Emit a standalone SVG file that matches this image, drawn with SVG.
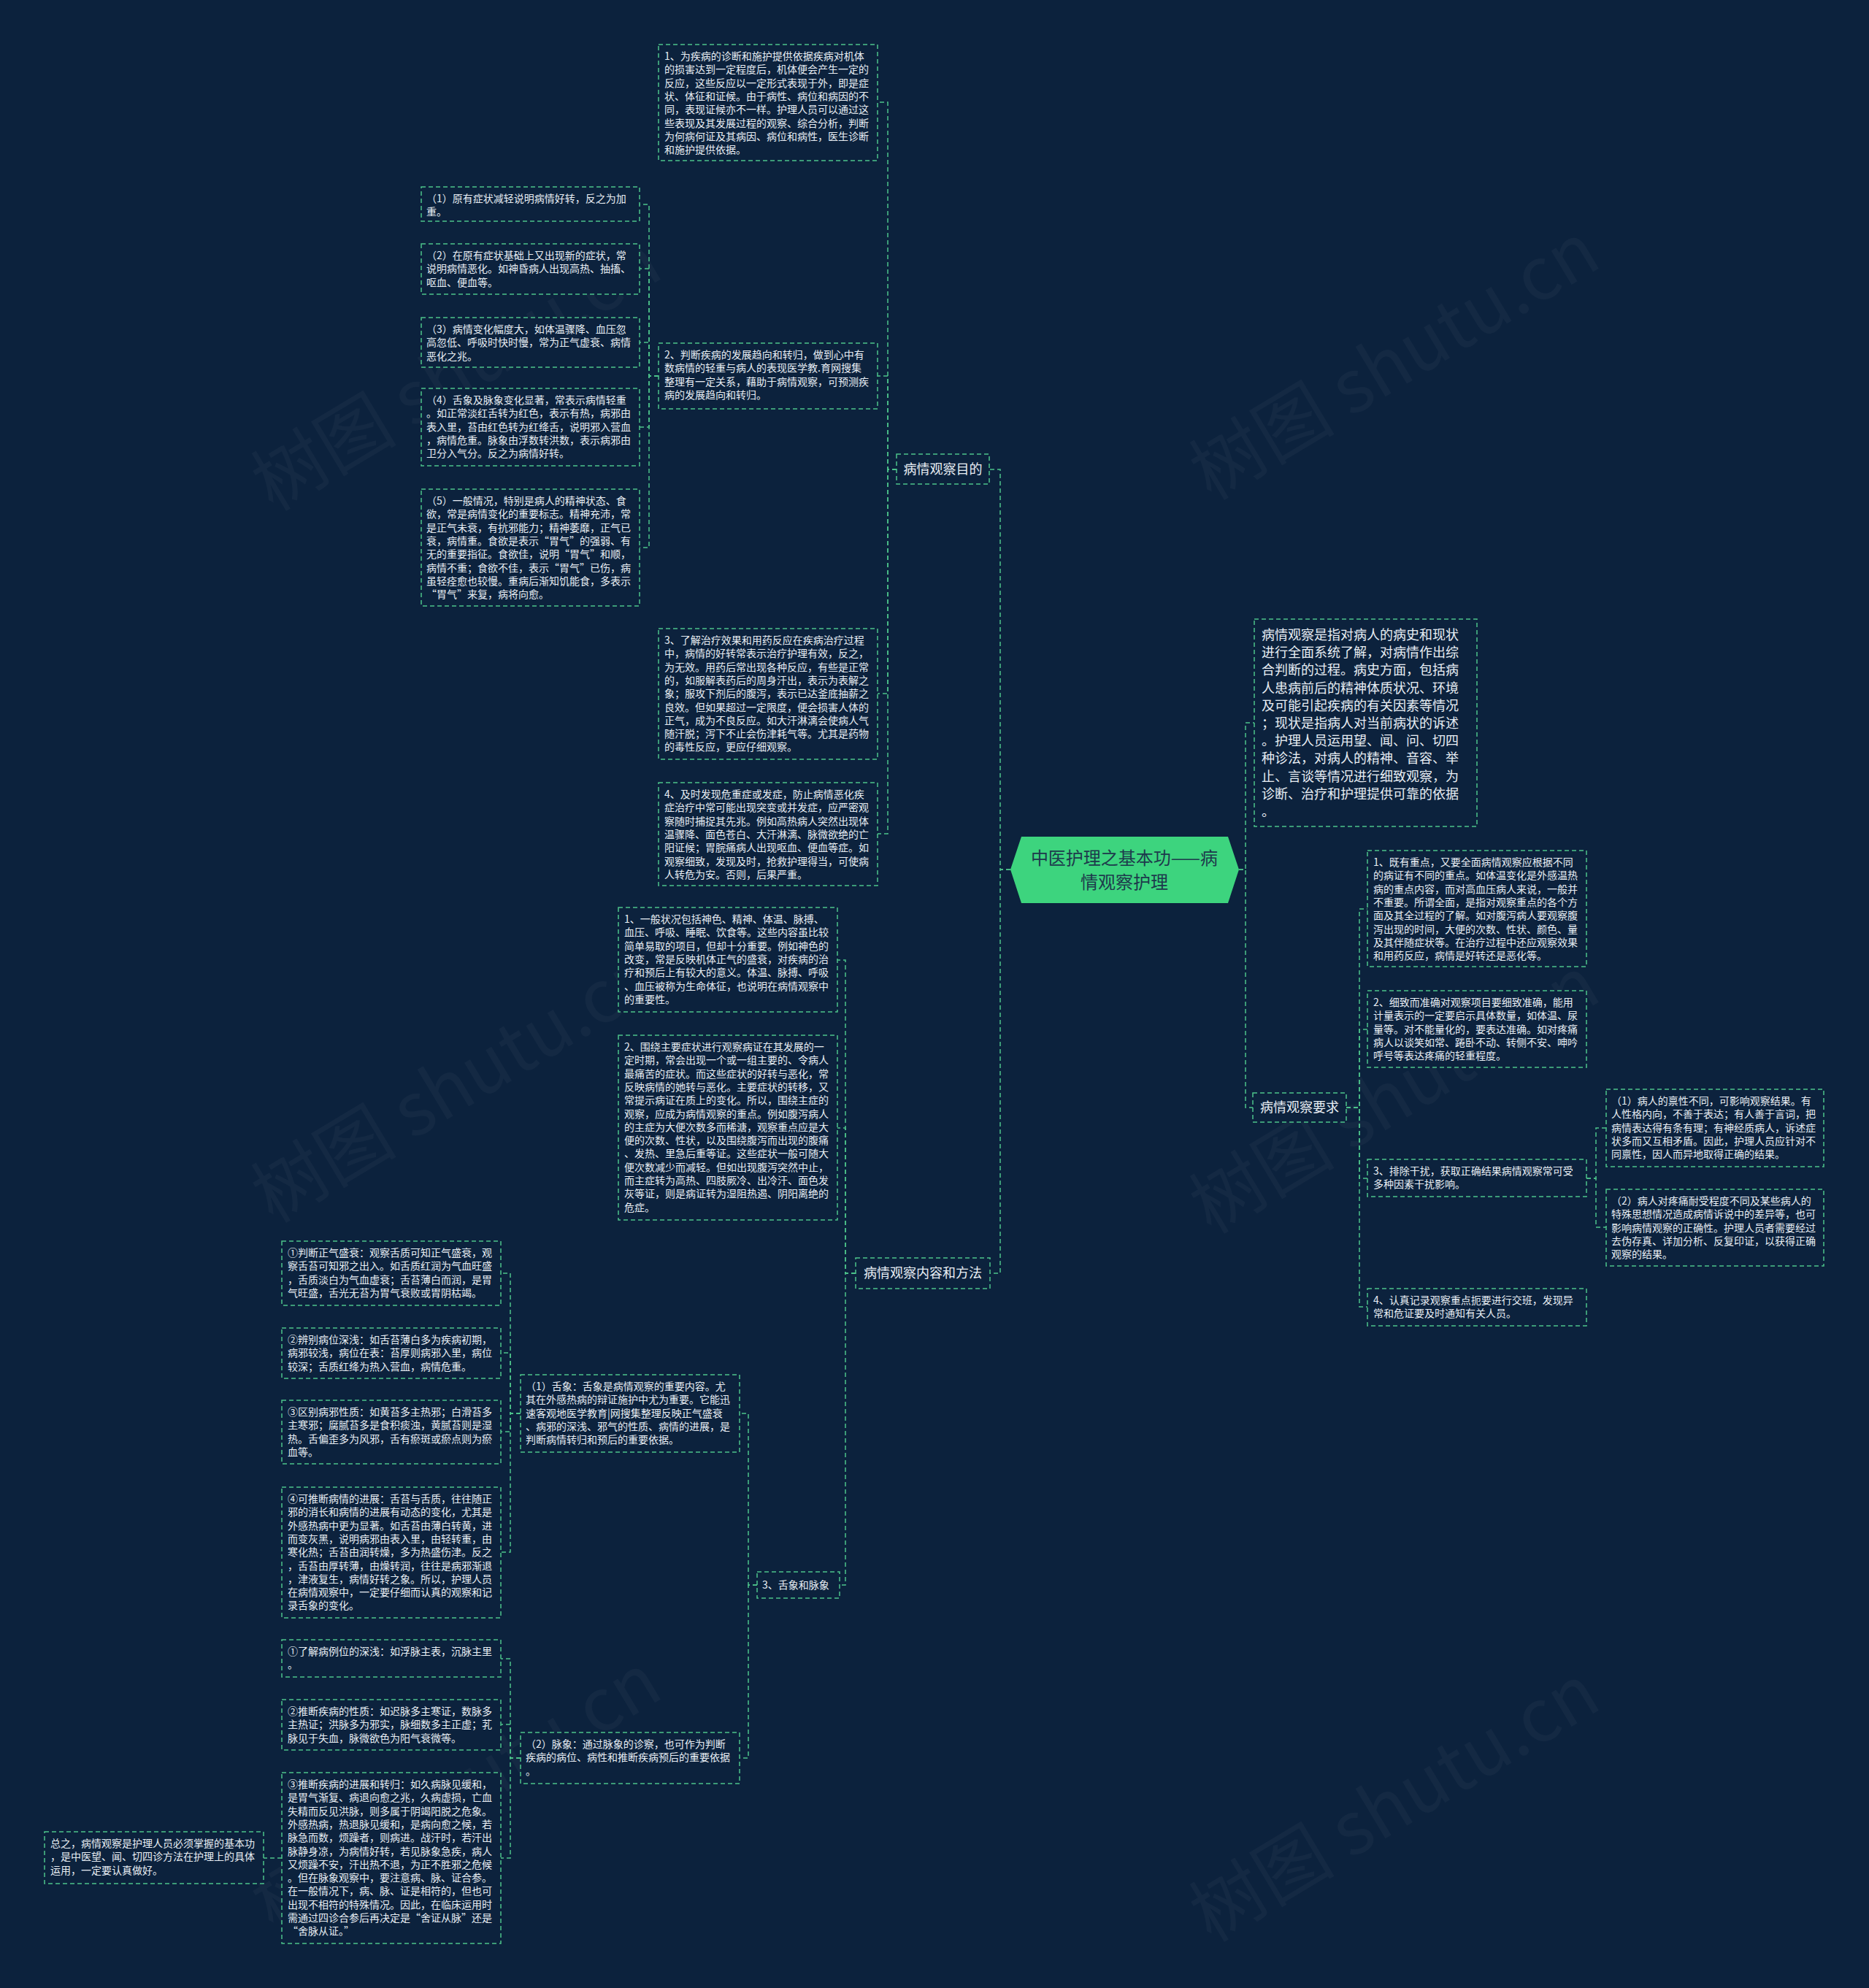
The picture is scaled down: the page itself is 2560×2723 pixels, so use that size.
<svg xmlns="http://www.w3.org/2000/svg" width="2560" height="2723" viewBox="0 0 2560 2723">
<style>
.bg{fill:#0c223d}
.box{fill:#0c223d;stroke:#4cc38a;stroke-width:1.5;stroke-dasharray:6 4}
.conn{fill:none;stroke:#4cc38a;stroke-width:1.5;stroke-dasharray:6 4}
.t{font-family:"Noto Sans CJK SC","Noto Sans",sans-serif;font-size:14px;fill:#e8eef4}
.t18{font-family:"Noto Sans CJK SC","Noto Sans",sans-serif;font-size:18px;fill:#e8eef4}
.lbl{font-family:"Noto Sans CJK SC","Noto Sans",sans-serif;font-size:18px;fill:#e8eef4;text-anchor:middle}
.ctr{font-family:"Noto Sans CJK SC","Noto Sans",sans-serif;font-size:24px;fill:#1d3a4c;text-anchor:middle}
.wm{font-family:"Noto Sans CJK SC","Noto Sans",sans-serif;font-size:100px;fill:#ffffff;fill-opacity:0.035;text-anchor:middle}
</style>
<rect class="bg" x="0" y="0" width="2560" height="2723"/>
<g id="watermarks">
<text class="wm" transform="translate(643,540) rotate(-31)">树图 shutu.cn</text>
<text class="wm" transform="translate(1928,525) rotate(-31)">树图 shutu.cn</text>
<text class="wm" transform="translate(643,1515) rotate(-31)">树图 shutu.cn</text>
<text class="wm" transform="translate(1928,1530) rotate(-31)">树图 shutu.cn</text>
<text class="wm" transform="translate(643,2485) rotate(-31)">树图 shutu.cn</text>
<text class="wm" transform="translate(1928,2500) rotate(-31)">树图 shutu.cn</text>
</g>
<g id="connectors">
<path class="conn" d="M1384,1191 H1370 V643 H1355"/>
<path class="conn" d="M1384,1191 H1370 V1744 H1356"/>
<path class="conn" d="M1697,1191 H1706 V990 H1718"/>
<path class="conn" d="M1697,1191 H1706 V1517 H1716"/>
<path class="conn" d="M1228,643 H1216 V140 H1202"/>
<path class="conn" d="M1228,643 H1216 V515 H1202"/>
<path class="conn" d="M1228,643 H1216 V950 H1202"/>
<path class="conn" d="M1228,643 H1216 V1142 H1202"/>
<path class="conn" d="M902,515 H889 V280 H876"/>
<path class="conn" d="M902,515 H889 V368 H876"/>
<path class="conn" d="M902,515 H889 V469 H876"/>
<path class="conn" d="M902,515 H889 V585 H876"/>
<path class="conn" d="M902,515 H889 V750 H876"/>
<path class="conn" d="M1172,1744 H1158 V1315 H1147"/>
<path class="conn" d="M1172,1744 H1158 V1545 H1147"/>
<path class="conn" d="M1172,1744 H1158 V2171 H1150"/>
<path class="conn" d="M1037,2171 H1025 V1936 H1013"/>
<path class="conn" d="M1037,2171 H1025 V2408 H1013"/>
<path class="conn" d="M713,1936 H699 V1744 H686"/>
<path class="conn" d="M713,1936 H699 V1853 H686"/>
<path class="conn" d="M713,1936 H699 V1961 H686"/>
<path class="conn" d="M713,1936 H699 V2126 H686"/>
<path class="conn" d="M713,2408 H699 V2272 H686"/>
<path class="conn" d="M713,2408 H699 V2362 H686"/>
<path class="conn" d="M713,2408 H699 V2545 H686"/>
<path class="conn" d="M386,2545 H361"/>
<path class="conn" d="M1844,1517 H1862 V1245 H1873"/>
<path class="conn" d="M1844,1517 H1862 V1410 H1873"/>
<path class="conn" d="M1844,1517 H1862 V1614 H1873"/>
<path class="conn" d="M1844,1517 H1862 V1790 H1873"/>
<path class="conn" d="M2173,1614 H2186 V1545 H2200"/>
<path class="conn" d="M2173,1614 H2186 V1681 H2200"/>
</g>
<g id="center">
<polygon points="1384,1191 1399,1146 1682,1146 1697,1191 1682,1237 1399,1237" fill="#3dd47e"/>
<text class="ctr" x="1540" y="1184">中医护理之基本功——病</text>
<text class="ctr" x="1540" y="1217">情观察护理</text>
</g>
<g id="n-mudi">
<rect class="box" x="1228" y="622" width="127" height="41"/>
<text class="lbl" x="1291.5" y="649">病情观察目的</text>
</g>
<g id="n-neirong">
<rect class="box" x="1172" y="1723" width="184" height="42"/>
<text class="lbl" x="1264" y="1750">病情观察内容和方法</text>
</g>
<g id="n-yaoqiu">
<rect class="box" x="1716" y="1497" width="128" height="40"/>
<text class="lbl" x="1780" y="1523">病情观察要求</text>
</g>
<g id="n-desc">
<rect class="box" x="1718" y="848" width="305" height="284"/>
<text class="t18" x="1728" y="876"><tspan x="1728" dy="0">病情观察是指对病人的病史和现状</tspan><tspan x="1728" dy="24.2">进行全面系统了解，对病情作出综</tspan><tspan x="1728" dy="24.2">合判断的过程。病史方面，包括病</tspan><tspan x="1728" dy="24.2">人患病前后的精神体质状况、环境</tspan><tspan x="1728" dy="24.2">及可能引起疾病的有关因素等情况</tspan><tspan x="1728" dy="24.2">；现状是指病人对当前病状的诉述</tspan><tspan x="1728" dy="24.2">。护理人员运用望、闻、问、切四</tspan><tspan x="1728" dy="24.2">种诊法，对病人的精神、音容、举</tspan><tspan x="1728" dy="24.2">止、言谈等情况进行细致观察，为</tspan><tspan x="1728" dy="24.2">诊断、治疗和护理提供可靠的依据</tspan><tspan x="1728" dy="24.2">。</tspan></text>
</g>
<g id="n-mudi1">
<rect class="box" x="902" y="61" width="300" height="159"/>
<text class="t" x="910" y="82"><tspan x="910" dy="0">1、为疾病的诊断和施护提供依据疾病对机体</tspan><tspan x="910" dy="18.3">的损害达到一定程度后，机体便会产生一定的</tspan><tspan x="910" dy="18.3">反应，这些反应以一定形式表现于外，即是症</tspan><tspan x="910" dy="18.3">状、体征和证候。由于病性、病位和病因的不</tspan><tspan x="910" dy="18.3">同，表现证候亦不一样。护理人员可以通过这</tspan><tspan x="910" dy="18.3">些表现及其发展过程的观察、综合分析，判断</tspan><tspan x="910" dy="18.3">为何病何证及其病因、病位和病性，医生诊断</tspan><tspan x="910" dy="18.3">和施护提供依据。</tspan></text>
</g>
<g id="n-mudi2">
<rect class="box" x="902" y="470" width="300" height="90"/>
<text class="t" x="910" y="491"><tspan x="910" dy="0">2、判断疾病的发展趋向和转归，做到心中有</tspan><tspan x="910" dy="18.3">数病情的轻重与病人的表现医学教.育网搜集</tspan><tspan x="910" dy="18.3">整理有一定关系，藉助于病情观察，可预测疾</tspan><tspan x="910" dy="18.3">病的发展趋向和转归。</tspan></text>
</g>
<g id="n-mudi3">
<rect class="box" x="902" y="861" width="300" height="179"/>
<text class="t" x="910" y="882"><tspan x="910" dy="0">3、了解治疗效果和用药反应在疾病治疗过程</tspan><tspan x="910" dy="18.3">中，病情的好转常表示治疗护理有效，反之，</tspan><tspan x="910" dy="18.3">为无效。用药后常出现各种反应，有些是正常</tspan><tspan x="910" dy="18.3">的，如服解表药后的周身汗出，表示为表解之</tspan><tspan x="910" dy="18.3">象；服攻下剂后的腹泻，表示已达釜底抽薪之</tspan><tspan x="910" dy="18.3">良效。但如果超过一定限度，便会损害人体的</tspan><tspan x="910" dy="18.3">正气，成为不良反应。如大汗淋漓会使病人气</tspan><tspan x="910" dy="18.3">随汗脱；泻下不止会伤津耗气等。尤其是药物</tspan><tspan x="910" dy="18.3">的毒性反应，更应仔细观察。</tspan></text>
</g>
<g id="n-mudi4">
<rect class="box" x="902" y="1072" width="300" height="141"/>
<text class="t" x="910" y="1093"><tspan x="910" dy="0">4、及时发现危重症或发症，防止病情恶化疾</tspan><tspan x="910" dy="18.3">症治疗中常可能出现突变或并发症，应严密观</tspan><tspan x="910" dy="18.3">察随时捕捉其先兆。例如高热病人突然出现体</tspan><tspan x="910" dy="18.3">温骤降、面色苍白、大汗淋漓、脉微欲绝的亡</tspan><tspan x="910" dy="18.3">阳证候；胃脘痛病人出现呕血、便血等症。如</tspan><tspan x="910" dy="18.3">观察细致，发现及时，抢救护理得当，可使病</tspan><tspan x="910" dy="18.3">人转危为安。否则，后果严重。</tspan></text>
</g>
<g id="n-m2-1">
<rect class="box" x="577" y="256" width="299" height="47"/>
<text class="t" x="584" y="277"><tspan x="584" dy="0">（1）原有症状减轻说明病情好转，反之为加</tspan><tspan x="584" dy="18.3">重。</tspan></text>
</g>
<g id="n-m2-2">
<rect class="box" x="577" y="334" width="299" height="69"/>
<text class="t" x="584" y="355"><tspan x="584" dy="0">（2）在原有症状基础上又出现新的症状，常</tspan><tspan x="584" dy="18.3">说明病情恶化。如神昏病人出现高热、抽搐、</tspan><tspan x="584" dy="18.3">呕血、便血等。</tspan></text>
</g>
<g id="n-m2-3">
<rect class="box" x="577" y="435" width="299" height="68"/>
<text class="t" x="584" y="456"><tspan x="584" dy="0">（3）病情变化幅度大，如体温骤降、血压忽</tspan><tspan x="584" dy="18.3">高忽低、呼吸时快时慢，常为正气虚衰、病情</tspan><tspan x="584" dy="18.3">恶化之兆。</tspan></text>
</g>
<g id="n-m2-4">
<rect class="box" x="577" y="532" width="299" height="106"/>
<text class="t" x="584" y="553"><tspan x="584" dy="0">（4）舌象及脉象变化显著，常表示病情轻重</tspan><tspan x="584" dy="18.3">。如正常淡红舌转为红色，表示有热，病邪由</tspan><tspan x="584" dy="18.3">表入里，苔由红色转为红绛舌，说明邪入营血</tspan><tspan x="584" dy="18.3">，病情危重。脉象由浮数转洪数，表示病邪由</tspan><tspan x="584" dy="18.3">卫分入气分。反之为病情好转。</tspan></text>
</g>
<g id="n-m2-5">
<rect class="box" x="577" y="670" width="299" height="160"/>
<text class="t" x="584" y="691"><tspan x="584" dy="0">（5）一般情况，特别是病人的精神状态、食</tspan><tspan x="584" dy="18.3">欲，常是病情变化的重要标志。精神充沛，常</tspan><tspan x="584" dy="18.3">是正气未衰，有抗邪能力；精神萎靡，正气已</tspan><tspan x="584" dy="18.3">衰，病情重。食欲是表示“胃气”的强弱、有</tspan><tspan x="584" dy="18.3">无的重要指征。食欲佳，说明“胃气”和顺，</tspan><tspan x="584" dy="18.3">病情不重；食欲不佳，表示“胃气”已伤，病</tspan><tspan x="584" dy="18.3">虽轻痊愈也较慢。重病后渐知饥能食，多表示</tspan><tspan x="584" dy="18.3">“胃气”来复，病将向愈。</tspan></text>
</g>
<g id="n-yq1">
<rect class="box" x="1873" y="1165" width="300" height="159"/>
<text class="t" x="1881" y="1186"><tspan x="1881" dy="0">1、既有重点，又要全面病情观察应根据不同</tspan><tspan x="1881" dy="18.3">的病证有不同的重点。如体温变化是外感温热</tspan><tspan x="1881" dy="18.3">病的重点内容，而对高血压病人来说，一般并</tspan><tspan x="1881" dy="18.3">不重要。所谓全面，是指对观察重点的各个方</tspan><tspan x="1881" dy="18.3">面及其全过程的了解。如对腹泻病人要观察腹</tspan><tspan x="1881" dy="18.3">泻出现的时间，大便的次数、性状、颜色、量</tspan><tspan x="1881" dy="18.3">及其伴随症状等。在治疗过程中还应观察效果</tspan><tspan x="1881" dy="18.3">和用药反应，病情是好转还是恶化等。</tspan></text>
</g>
<g id="n-yq2">
<rect class="box" x="1873" y="1357" width="300" height="105"/>
<text class="t" x="1881" y="1378"><tspan x="1881" dy="0">2、细致而准确对观察项目要细致准确，能用</tspan><tspan x="1881" dy="18.3">计量表示的一定要启示具体数量，如体温、尿</tspan><tspan x="1881" dy="18.3">量等。对不能量化的，要表达准确。如对疼痛</tspan><tspan x="1881" dy="18.3">病人以谈笑如常、踡卧不动、转侧不安、呻吟</tspan><tspan x="1881" dy="18.3">呼号等表达疼痛的轻重程度。</tspan></text>
</g>
<g id="n-yq3">
<rect class="box" x="1873" y="1588" width="300" height="51"/>
<text class="t" x="1881" y="1609"><tspan x="1881" dy="0">3、排除干扰，获取正确结果病情观察常可受</tspan><tspan x="1881" dy="18.3">多种因素干扰影响。</tspan></text>
</g>
<g id="n-yq4">
<rect class="box" x="1873" y="1765" width="300" height="51"/>
<text class="t" x="1881" y="1786"><tspan x="1881" dy="0">4、认真记录观察重点扼要进行交班，发现异</tspan><tspan x="1881" dy="18.3">常和危证要及时通知有关人员。</tspan></text>
</g>
<g id="n-yq3-1">
<rect class="box" x="2200" y="1492" width="298" height="106"/>
<text class="t" x="2207" y="1513"><tspan x="2207" dy="0">（1）病人的禀性不同，可影响观察结果。有</tspan><tspan x="2207" dy="18.3">人性格内向，不善于表达；有人善于言词，把</tspan><tspan x="2207" dy="18.3">病情表达得有条有理；有神经质病人，诉述症</tspan><tspan x="2207" dy="18.3">状多而又互相矛盾。因此，护理人员应针对不</tspan><tspan x="2207" dy="18.3">同禀性，因人而异地取得正确的结果。</tspan></text>
</g>
<g id="n-yq3-2">
<rect class="box" x="2200" y="1629" width="298" height="105"/>
<text class="t" x="2207" y="1650"><tspan x="2207" dy="0">（2）病人对疼痛耐受程度不同及某些病人的</tspan><tspan x="2207" dy="18.3">特殊思想情况造成病情诉说中的差异等，也可</tspan><tspan x="2207" dy="18.3">影响病情观察的正确性。护理人员者需要经过</tspan><tspan x="2207" dy="18.3">去伪存真、详加分析、反复印证，以获得正确</tspan><tspan x="2207" dy="18.3">观察的结果。</tspan></text>
</g>
<g id="n-nr1">
<rect class="box" x="847" y="1243" width="300" height="143"/>
<text class="t" x="855" y="1264"><tspan x="855" dy="0">1、一般状况包括神色、精神、体温、脉搏、</tspan><tspan x="855" dy="18.3">血压、呼吸、睡眠、饮食等。这些内容虽比较</tspan><tspan x="855" dy="18.3">简单易取的项目，但却十分重要。例如神色的</tspan><tspan x="855" dy="18.3">改变，常是反映机体正气的盛衰，对疾病的治</tspan><tspan x="855" dy="18.3">疗和预后上有较大的意义。体温、脉搏、呼吸</tspan><tspan x="855" dy="18.3">、血压被称为生命体征，也说明在病情观察中</tspan><tspan x="855" dy="18.3">的重要性。</tspan></text>
</g>
<g id="n-nr2">
<rect class="box" x="847" y="1418" width="300" height="253"/>
<text class="t" x="855" y="1439"><tspan x="855" dy="0">2、围绕主要症状进行观察病证在其发展的一</tspan><tspan x="855" dy="18.3">定时期，常会出现一个或一组主要的、令病人</tspan><tspan x="855" dy="18.3">最痛苦的症状。而这些症状的好转与恶化，常</tspan><tspan x="855" dy="18.3">反映病情的她转与恶化。主要症状的转移，又</tspan><tspan x="855" dy="18.3">常提示病证在质上的变化。所以，围绕主症的</tspan><tspan x="855" dy="18.3">观察，应成为病情观察的重点。例如腹泻病人</tspan><tspan x="855" dy="18.3">的主症为大便次数多而稀溏，观察重点应是大</tspan><tspan x="855" dy="18.3">便的次数、性状，以及围绕腹泻而出现的腹痛</tspan><tspan x="855" dy="18.3">、发热、里急后重等证。这些症状一般可随大</tspan><tspan x="855" dy="18.3">便次数减少而减轻。但如出现腹泻突然中止，</tspan><tspan x="855" dy="18.3">而主症转为高热、四肢厥冷、出冷汗、面色发</tspan><tspan x="855" dy="18.3">灰等证，则是病证转为湿阻热遏、阴阳离绝的</tspan><tspan x="855" dy="18.3">危症。</tspan></text>
</g>
<g id="n-nr3">
<rect class="box" x="1037" y="2153" width="113" height="36"/>
<text class="t" x="1044" y="2176">3、舌象和脉象</text>
</g>
<g id="n-she">
<rect class="box" x="713" y="1883" width="300" height="106"/>
<text class="t" x="720" y="1904"><tspan x="720" dy="0">（1）舌象：舌象是病情观察的重要内容。尤</tspan><tspan x="720" dy="18.3">其在外感热病的辩证施护中尤为重要。它能迅</tspan><tspan x="720" dy="18.3">速客观地医学教育|网搜集整理反映正气盛衰</tspan><tspan x="720" dy="18.3">、病邪的深浅、邪气的性质、病情的进展，是</tspan><tspan x="720" dy="18.3">判断病情转归和预后的重要依据。</tspan></text>
</g>
<g id="n-she1">
<rect class="box" x="386" y="1700" width="300" height="88"/>
<text class="t" x="394" y="1721"><tspan x="394" dy="0">①判断正气盛衰：观察舌质可知正气盛衰，观</tspan><tspan x="394" dy="18.3">察舌苔可知邪之出入。如舌质红润为气血旺盛</tspan><tspan x="394" dy="18.3">，舌质淡白为气血虚衰；舌苔薄白而润，是胃</tspan><tspan x="394" dy="18.3">气旺盛，舌光无苔为胃气衰败或胃阴枯竭。</tspan></text>
</g>
<g id="n-she2">
<rect class="box" x="386" y="1819" width="300" height="69"/>
<text class="t" x="394" y="1840"><tspan x="394" dy="0">②辨别病位深浅：如舌苔薄白多为疾病初期，</tspan><tspan x="394" dy="18.3">病邪较浅，病位在表：苔厚则病邪入里，病位</tspan><tspan x="394" dy="18.3">较深；舌质红绛为热入营血，病情危重。</tspan></text>
</g>
<g id="n-she3">
<rect class="box" x="386" y="1918" width="300" height="87"/>
<text class="t" x="394" y="1939"><tspan x="394" dy="0">③区别病邪性质：如黄苔多主热邪；白滑苔多</tspan><tspan x="394" dy="18.3">主寒邪；腐腻苔多是食积痰浊，黄腻苔则是湿</tspan><tspan x="394" dy="18.3">热。舌偏歪多为风邪，舌有瘀斑或瘀点则为瘀</tspan><tspan x="394" dy="18.3">血等。</tspan></text>
</g>
<g id="n-she4">
<rect class="box" x="386" y="2037" width="300" height="179"/>
<text class="t" x="394" y="2058"><tspan x="394" dy="0">④可推断病情的进展：舌苔与舌质，往往随正</tspan><tspan x="394" dy="18.3">邪的消长和病情的进展有动态的变化，尤其是</tspan><tspan x="394" dy="18.3">外感热病中更为显著。如舌苔由薄白转黄，进</tspan><tspan x="394" dy="18.3">而变灰黑，说明病邪由表入里，由轻转重，由</tspan><tspan x="394" dy="18.3">寒化热；舌苔由润转燥，多为热盛伤津。反之</tspan><tspan x="394" dy="18.3">，舌苔由厚转薄，由燥转润，往往是病邪渐退</tspan><tspan x="394" dy="18.3">，津液复生，病情好转之象。所以，护理人员</tspan><tspan x="394" dy="18.3">在病情观察中，一定要仔细而认真的观察和记</tspan><tspan x="394" dy="18.3">录舌象的变化。</tspan></text>
</g>
<g id="n-mai">
<rect class="box" x="713" y="2373" width="300" height="70"/>
<text class="t" x="720" y="2394"><tspan x="720" dy="0">（2）脉象：通过脉象的诊察，也可作为判断</tspan><tspan x="720" dy="18.3">疾病的病位、病性和推断疾病预后的重要依据</tspan><tspan x="720" dy="18.3">。</tspan></text>
</g>
<g id="n-mai1">
<rect class="box" x="386" y="2246" width="300" height="51"/>
<text class="t" x="394" y="2267"><tspan x="394" dy="0">①了解病例位的深浅：如浮脉主表，沉脉主里</tspan><tspan x="394" dy="18.3">。</tspan></text>
</g>
<g id="n-mai2">
<rect class="box" x="386" y="2328" width="300" height="69"/>
<text class="t" x="394" y="2349"><tspan x="394" dy="0">②推断疾病的性质：如迟脉多主寒证，数脉多</tspan><tspan x="394" dy="18.3">主热证；洪脉多为邪实，脉细数多主正虚；芤</tspan><tspan x="394" dy="18.3">脉见于失血，脉微欲色为阳气衰微等。</tspan></text>
</g>
<g id="n-mai3">
<rect class="box" x="386" y="2428" width="300" height="234"/>
<text class="t" x="394" y="2449"><tspan x="394" dy="0">③推断疾病的进展和转归：如久病脉见缓和，</tspan><tspan x="394" dy="18.3">是胃气渐复、病退向愈之兆，久病虚损，亡血</tspan><tspan x="394" dy="18.3">失精而反见洪脉，则多属于阴竭阳脱之危象。</tspan><tspan x="394" dy="18.3">外感热病，热退脉见缓和，是病向愈之候，若</tspan><tspan x="394" dy="18.3">脉急而数，烦躁者，则病进。战汗时，若汗出</tspan><tspan x="394" dy="18.3">脉静身凉，为病情好转，若见脉象急疾，病人</tspan><tspan x="394" dy="18.3">又烦躁不安，汗出热不退，为正不胜邪之危候</tspan><tspan x="394" dy="18.3">。但在脉象观察中，要注意病、脉、证合参。</tspan><tspan x="394" dy="18.3">在一般情况下，病、脉、证是相符的，但也可</tspan><tspan x="394" dy="18.3">出现不相符的特殊情况。因此，在临床运用时</tspan><tspan x="394" dy="18.3">需通过四诊合参后再决定是“舍证从脉”还是</tspan><tspan x="394" dy="18.3">“舍脉从证。”</tspan></text>
</g>
<g id="n-summary">
<rect class="box" x="61" y="2509" width="300" height="71"/>
<text class="t" x="69" y="2530"><tspan x="69" dy="0">总之，病情观察是护理人员必须掌握的基本功</tspan><tspan x="69" dy="18.3">，是中医望、闻、切四诊方法在护理上的具体</tspan><tspan x="69" dy="18.3">运用，一定要认真做好。</tspan></text>
</g>
</svg>
